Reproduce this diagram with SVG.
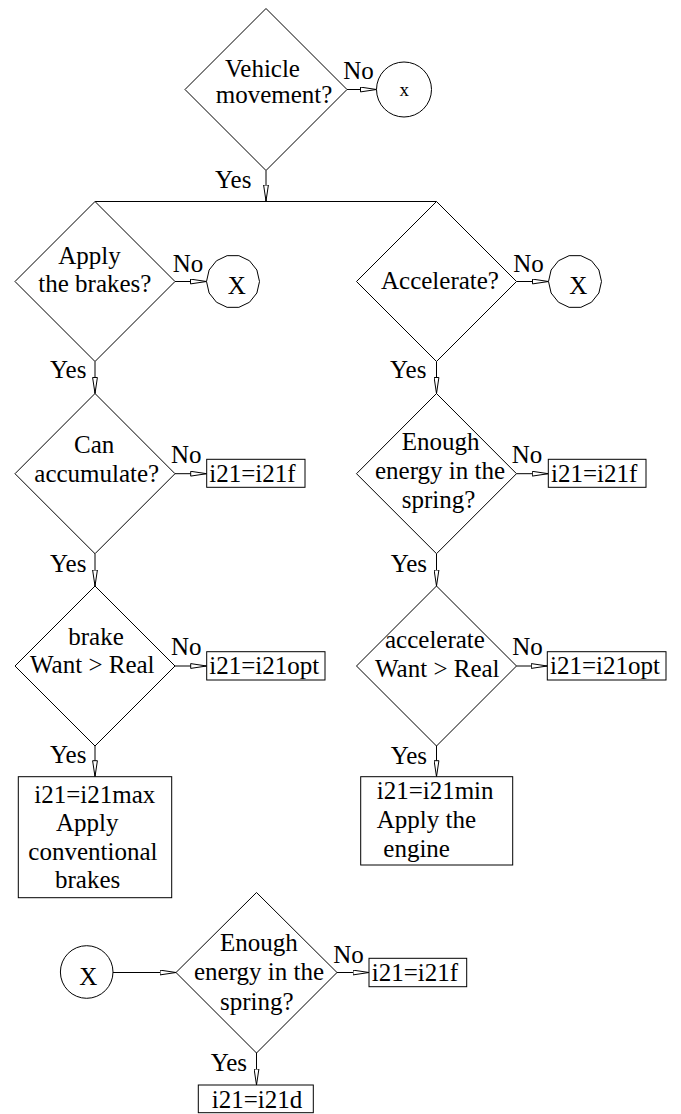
<svg xmlns="http://www.w3.org/2000/svg" xmlns:xlink="http://www.w3.org/1999/xlink" width="681" height="1114" viewBox="0 0 681 1114">
<style>
text{font-family:"Liberation Serif","Times New Roman",serif;font-size:25px;fill:#000}
.s{fill:#fff;stroke:#000;stroke-width:1}
.c{fill:none;stroke:#000;stroke-width:1}
.sm{font-size:19px}
</style>
<defs>
<marker id="ah" viewBox="0 0 17 6" refX="16.5" refY="3" markerWidth="17" markerHeight="6" markerUnits="userSpaceOnUse" orient="auto">
<path d="M0.5,0.6 L16.5,3 L0.5,5.4 Z" fill="#fff" stroke="#000" stroke-width="1"/>
</marker>
<polygon id="conn" class="s" points="5.9,-25.83 16.52,-20.72 23.88,-11.5 26.5,0 23.88,11.5 16.52,20.72 5.9,25.83 -5.9,25.83 -16.52,20.72 -23.88,11.5 -26.5,0 -23.88,-11.5 -16.52,-20.72 -5.9,-25.83"/>
</defs>
<rect width="681" height="1114" fill="#fff"/>

<g id="connectors">
<line class="c" x1="347" y1="89.5" x2="376.5" y2="89.5" marker-end="url(#ah)"/>
<line class="c" x1="266" y1="170.5" x2="266" y2="201" marker-end="url(#ah)"/>
<line class="c" x1="95" y1="201.5" x2="436.5" y2="201.5"/>
<line class="c" x1="175" y1="281.5" x2="206.5" y2="281.5" marker-end="url(#ah)"/>
<line class="c" x1="516.5" y1="281.5" x2="548.5" y2="281.5" marker-end="url(#ah)"/>
<line class="c" x1="95" y1="361.5" x2="95" y2="393.5" marker-end="url(#ah)"/>
<line class="c" x1="436.5" y1="361.5" x2="436.5" y2="393.5" marker-end="url(#ah)"/>
<line class="c" x1="175" y1="473.7" x2="206.7" y2="473.7" marker-end="url(#ah)"/>
<line class="c" x1="516.5" y1="473.7" x2="548.3" y2="473.7" marker-end="url(#ah)"/>
<line class="c" x1="95" y1="553.7" x2="95" y2="586" marker-end="url(#ah)"/>
<line class="c" x1="436.5" y1="553.7" x2="436.5" y2="586" marker-end="url(#ah)"/>
<line class="c" x1="175" y1="666" x2="206.7" y2="666" marker-end="url(#ah)"/>
<line class="c" x1="516.5" y1="666" x2="547.3" y2="666" marker-end="url(#ah)"/>
<line class="c" x1="95" y1="746" x2="95" y2="776.7" marker-end="url(#ah)"/>
<line class="c" x1="436.5" y1="746" x2="436.5" y2="776.7" marker-end="url(#ah)"/>
<line class="c" x1="113" y1="972.5" x2="176" y2="972.5" marker-end="url(#ah)"/>
<line class="c" x1="337" y1="972.5" x2="369" y2="972.5" marker-end="url(#ah)"/>
<line class="c" x1="256.5" y1="1053" x2="256.5" y2="1085" marker-end="url(#ah)"/>
</g>

<g id="labels">
<text x="343.3" y="79.3">No</text>
<text x="215" y="188.3">Yes</text>
<text x="172.7" y="272.3">No</text>
<text x="513.3" y="272.3">No</text>
<text x="50" y="378.3">Yes</text>
<text x="390" y="378.3">Yes</text>
<text x="171" y="463.3">No</text>
<text x="511.7" y="463.3">No</text>
<text x="50" y="571.7">Yes</text>
<text x="390.7" y="571.7">Yes</text>
<text x="171" y="655">No</text>
<text x="512.3" y="655">No</text>
<text x="50" y="763.3">Yes</text>
<text x="390.7" y="764">Yes</text>
<text x="333.3" y="963.3">No</text>
<text x="210.7" y="1070.7">Yes</text>
</g>

<g id="n-vehicle">
<polygon class="s" points="266,8.5 347,89.5 266,170.5 185,89.5"/>
<text x="225" y="77">Vehicle</text>
<text x="215.7" y="103.3">movement?</text>
</g>
<g id="n-x-top">
<circle class="s" cx="404" cy="89.5" r="27.5"/>
<text class="sm" x="399.5" y="96">x</text>
</g>

<g id="n-brakes">
<polygon class="s" points="95,201.5 175,281.5 95,361.5 15,281.5"/>
<text x="58.3" y="264">Apply</text>
<text x="38.3" y="291.7">the brakes?</text>
</g>
<g id="n-x-left">
<use xlink:href="#conn" href="#conn" x="233" y="281.5"/>
<text x="227.7" y="294">X</text>
</g>

<g id="n-accelerate">
<polygon class="s" points="436.5,201.5 516.5,281.5 436.5,361.5 356.5,281.5"/>
<text x="381" y="289.3">Accelerate?</text>
</g>
<g id="n-x-right">
<use xlink:href="#conn" href="#conn" x="575" y="281.5"/>
<text x="569.3" y="294">X</text>
</g>

<g id="n-accumulate">
<polygon class="s" points="95,393.5 175,473.7 95,553.7 15,473.7"/>
<text x="74" y="453.3">Can</text>
<text x="34.3" y="481.7">accumulate?</text>
</g>
<g id="n-f-left">
<rect class="s" x="206.7" y="459.3" width="98.3" height="28"/>
<text x="209.3" y="481.7">i21=i21f</text>
</g>

<g id="n-spring-right">
<polygon class="s" points="436.5,393.5 516.5,473.7 436.5,553.7 356.5,473.7"/>
<text x="401.7" y="450">Enough</text>
<text x="375" y="479.3">energy in the</text>
<text x="401.7" y="508.3">spring?</text>
</g>
<g id="n-f-right">
<rect class="s" x="548.3" y="459.3" width="97.7" height="28"/>
<text x="551" y="481.7">i21=i21f</text>
</g>

<g id="n-brake-want">
<polygon class="s" points="95,586 175,666 95,746 15,666"/>
<text x="68.3" y="645">brake</text>
<text x="30" y="673.3">Want &gt; Real</text>
</g>
<g id="n-opt-left">
<rect class="s" x="206.7" y="651.7" width="118.3" height="28.3"/>
<text x="209.3" y="674">i21=i21opt</text>
</g>

<g id="n-acc-want">
<polygon class="s" points="436.5,586 516.5,666 436.5,746 356.5,666"/>
<text x="385" y="648.3">accelerate</text>
<text x="375" y="677.3">Want &gt; Real</text>
</g>
<g id="n-opt-right">
<rect class="s" x="547.3" y="651.7" width="118.7" height="28.3"/>
<text x="550" y="674">i21=i21opt</text>
</g>

<g id="n-max">
<rect class="s" x="18.3" y="776.7" width="153.4" height="121"/>
<text x="34.3" y="803.3">i21=i21max</text>
<text x="56" y="831">Apply</text>
<text x="28.3" y="860">conventional</text>
<text x="55" y="888.3">brakes</text>
</g>

<g id="n-min">
<rect class="s" x="360.7" y="776.7" width="152" height="88.3"/>
<text x="376.7" y="799.3">i21=i21min</text>
<text x="376.7" y="828.3">Apply the</text>
<text x="383.3" y="856.7">engine</text>
</g>

<g id="n-x-bottom">
<circle class="s" cx="86.7" cy="972" r="26.3"/>
<text x="79.3" y="985">X</text>
</g>

<g id="n-spring-bottom">
<polygon class="s" points="256.5,892.5 337,972.5 256.5,1053 176,972.5"/>
<text x="220" y="950.7">Enough</text>
<text x="194" y="980">energy in the</text>
<text x="220" y="1010">spring?</text>
</g>
<g id="n-f-bottom">
<rect class="s" x="369" y="958.3" width="97.7" height="28.4"/>
<text x="371.7" y="981">i21=i21f</text>
</g>

<g id="n-d">
<rect class="s" x="198.3" y="1085" width="115" height="27.7"/>
<text x="211.7" y="1107.7">i21=i21d</text>
</g>
</svg>
